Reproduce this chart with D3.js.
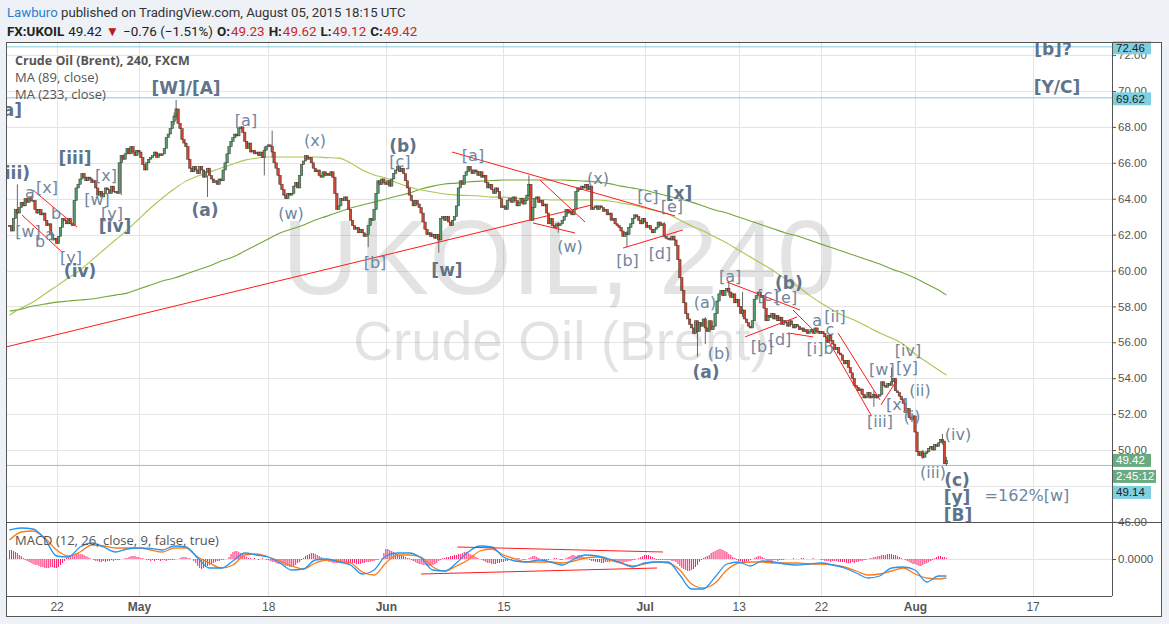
<!DOCTYPE html>
<html><head><meta charset="utf-8">
<script src="https://cdn.jsdelivr.net/npm/d3@7"></script>
<style>body{margin:0;background:#eef1f5;}svg{display:block}</style>
</head><body>
<svg id="c" width="1169" height="624"></svg>
<script>
// ---------------- DATA ----------------
const tradingDays = ["Apr 16","Apr 17","Apr 20","Apr 21","Apr 22","Apr 23","Apr 24","Apr 27","Apr 28","Apr 29","Apr 30","May 1","May 4","May 5","May 6","May 7","May 8","May 11","May 12","May 13","May 14","May 15","May 18","May 19","May 20","May 21","May 22","May 25","May 26","May 27","May 28","May 29","Jun 1","Jun 2","Jun 3","Jun 4","Jun 5","Jun 8","Jun 9","Jun 10","Jun 11","Jun 12","Jun 15","Jun 16","Jun 17","Jun 18","Jun 19","Jun 22","Jun 23","Jun 24","Jun 25","Jun 26","Jun 29","Jun 30","Jul 1","Jul 2","Jul 3","Jul 6","Jul 7","Jul 8","Jul 9","Jul 10","Jul 13","Jul 14","Jul 15","Jul 16","Jul 17","Jul 20","Jul 21","Jul 22","Jul 23","Jul 24","Jul 27","Jul 28","Jul 29","Jul 30","Jul 31","Aug 3","Aug 4","Aug 5"];
const firstOpen = 62.5;
// six 4-hour closes per trading day
const closes = [
[62.5,62.2,62.9,63.4,63.2,63.5],[63.8,63.6,64.0,63.8,64.1,63.9],[63.9,63.4,63.2,63.4,63.1,63.2],[62.8,62.5,62.6,62.0,61.7,61.8],
[61.5,61.9,62.4,62.9,62.8,62.6],[62.9,62.6,62.5,63.9,64.6,64.8],[65.1,65.4,65.2,65.0,65.2,65.1],[64.9,65.0,64.6,64.2,64.4,64.1],
[64.3,64.6,64.5,64.3,64.7,64.4],[64.4,64.3,66.0,66.4,66.2,66.5],[66.8,66.5,66.9,66.6,66.4,66.7],[66.6,66.3,65.9,65.6,66.0,66.2],
[66.3,66.4,66.6,66.3,66.5,66.4],[66.5,66.8,67.4,67.6,67.9,68.3],[68.6,69.0,68.2,67.9,67.3,67.1],[66.9,66.2,65.7,65.5,65.8,65.6],
[65.4,65.8,65.6,65.2,65.5,65.7],[65.3,65.1,64.9,65.0,64.8,65.1],[65.0,65.6,66.0,66.5,66.9,67.2],[67.4,67.6,67.5,67.9,68.0,67.7],
[67.2,66.8,67.1,66.6,66.7,66.5],[66.6,66.4,66.6,66.3,66.7,66.9],[67.0,66.9,66.6,66.0,65.7,65.3],[64.8,64.5,64.2,64.0,64.3,64.2],
[64.3,64.7,64.9,64.6,65.3,65.9],[66.1,66.4,66.2,66.3,66.0,65.7],[65.5,65.6,65.3,65.2,65.5,65.3],[65.4,65.3,65.5,65.2,64.3,63.4],
[63.6,64.0,63.9,64.1,63.9,63.4],[62.8,62.5,62.3,62.4,62.1,62.3],[62.1,61.9,62.0,62.5,62.9,62.8],[63.4,64.3,65.0,64.8,65.1,64.9],
[64.8,65.0,64.7,65.1,65.4,65.6],[65.8,65.5,65.7,65.4,65.0,64.6],[64.2,63.9,63.6,63.9,63.7,63.5],[63.2,62.7,62.3,62.0,62.1,61.9],
[62.0,61.8,62.0,61.7,62.9,63.0],[62.8,63.0,62.7,62.5,62.8,63.0],[63.6,64.6,65.0,64.8,65.3,65.5],[65.8,65.6,65.4,65.6,65.5,65.3],
[65.5,65.2,65.3,64.9,64.6,64.8],[64.5,64.3,64.6,64.4,64.0,63.5],[63.6,63.4,63.9,64.0,63.8,64.1],[63.9,63.6,63.8,64.0,63.7,63.9],
[64.2,64.8,62.8,63.5,64.0,64.1],[63.8,63.9,63.6,63.7,63.2,62.6],[62.9,62.5,62.4,62.6,62.5,62.6],[62.8,63.0,63.4,63.2,63.3,63.1],
[63.4,64.4,64.6,64.5,64.7,64.6],[64.8,64.5,64.7,63.4,63.5,63.6],[63.4,63.6,63.5,63.3,63.4,63.1],[63.2,62.8,62.9,62.6,62.5,62.4],
[62.2,61.9,62.1,62.0,62.4,62.6],[62.9,63.1,63.0,62.8,62.6,62.9],[62.7,62.4,62.5,62.3,62.1,62.3],[62.4,62.7,62.5,62.6,61.9,61.8],
[61.8,61.7,61.9,61.7,61.4,60.6],[59.6,58.9,58.2,57.6,57.3,57.0],[56.8,56.5,57.2,56.6,57.1,56.9],[57.3,56.8,56.6,57.2,56.7,56.9],
[57.6,58.3,58.7,58.9,58.6,58.9],[59.0,58.8,58.5,58.7,58.2,58.4],[58.0,57.6,57.8,57.3,57.1,56.9],[56.8,57.2,58.4,58.6,58.8,58.5],
[58.6,57.9,57.2,57.5,57.4,57.6],[57.3,57.5,57.2,57.4,57.0,57.2],[57.1,56.9,57.2,57.0,56.8,57.0],[56.9,56.7,56.8,56.6,56.7,56.5],
[56.6,56.7,56.5,56.8,56.6,56.5],[56.6,56.5,56.3,56.0,56.4,56.1],[55.9,55.6,55.7,55.4,55.3,55.0],[54.8,55.0,54.6,54.3,54.0,53.6],
[53.5,53.3,53.4,53.1,52.9,53.0],[53.2,52.9,53.0,53.1,52.9,53.0],[53.1,53.8,53.6,53.5,53.7,53.6],[53.8,54.0,53.3,53.2,53.0,52.8],
[52.6,52.1,52.3,51.8,51.7,51.9],[51.0,49.9,49.7,49.9,49.6,49.8],[49.9,50.1,50.2,50.0,50.3,50.2],[50.4,50.6,50.5,49.23,49.42]
];
// visible wicks: [bar index, high, low]
const wicks = [[4,64.8,62.2],[57,66.4,64.2],[84,68.8,68.1],[85,69.5,68.4],[101,65.3,64.1],[130,66.9,65.3],[134,67.8,66.3],[183,62.4,61.3],[219,62.0,61.0],[265,65.3,64.1],[280,62.7,62.1],[315,62.2,61.3],[334,62.7,61.9],[351,57.2,55.2],[355,57.4,55.9],[367,59.4,58.6],[374,58.8,57.4],[441,53.3,52.4],[450,54.6,53.6],[466,50.0,49.5],[476,50.9,50.3],[478,49.62,49.12]];
// moving averages, one value per trading day + last bar
const ma89 = [57.52,57.91,58.24,58.69,59.13,59.58,60.03,60.58,61.14,61.70,62.25,62.87,63.48,64.04,64.54,64.98,65.26,65.48,65.71,65.93,66.15,66.26,66.32,66.32,66.32,66.32,66.32,66.29,66.26,65.99,65.60,65.32,65.15,64.87,64.65,64.48,64.37,64.26,64.20,64.18,64.15,64.09,64.09,64.04,64.01,63.98,63.93,63.93,63.93,63.93,63.93,63.87,63.76,63.65,63.48,63.31,63.15,62.81,62.48,62.20,61.86,61.53,61.14,60.75,60.36,59.97,59.52,59.13,58.63,58.19,57.80,57.46,57.19,56.85,56.52,56.24,55.90,55.35,54.90,54.46,54.18];
const ma233 = [57.74,57.85,58.02,58.13,58.24,58.30,58.36,58.41,58.52,58.63,58.74,58.97,59.19,59.41,59.58,59.80,60.03,60.25,60.53,60.75,61.08,61.42,61.75,62.09,62.31,62.53,62.81,63.03,63.26,63.48,63.65,63.81,63.98,64.15,64.31,64.54,64.70,64.82,64.87,64.93,64.98,65.01,65.04,65.04,65.04,65.04,65.04,65.04,65.01,64.98,64.93,64.84,64.70,64.59,64.48,64.31,64.15,63.98,63.81,63.59,63.37,63.20,62.98,62.76,62.53,62.31,62.09,61.92,61.70,61.47,61.25,61.03,60.81,60.58,60.36,60.08,59.86,59.58,59.25,58.91,58.63];
// MACD (12,26,9) line and signal, per trading day + last bar
const macdLine = [1.45,1.55,1.50,1.00,0.15,0.10,0.60,0.80,0.60,0.35,0.50,0.55,0.53,0.45,0.65,0.60,0.05,-0.45,-0.45,-0.10,0.30,0.20,0.10,-0.20,-0.55,-0.50,-0.05,0.00,-0.15,-0.30,-0.75,-0.55,0.15,0.30,0.30,0.05,-0.55,-0.60,-0.20,0.35,0.65,0.60,0.10,-0.10,-0.15,-0.05,-0.15,-0.30,0.00,0.20,0.15,0.00,-0.20,-0.40,-0.20,-0.15,-0.15,-0.80,-1.50,-1.50,-0.90,-0.25,-0.15,-0.35,-0.10,-0.15,-0.25,-0.30,-0.25,-0.20,-0.30,-0.45,-0.70,-0.95,-0.85,-0.45,-0.40,-0.55,-1.15,-0.85,-0.85];
const signalLine = [0.95,1.35,1.40,1.05,0.45,0.15,0.35,0.70,0.65,0.55,0.55,0.55,0.45,0.35,0.55,0.55,0.10,-0.20,-0.45,-0.30,0.20,0.25,0.10,-0.10,-0.35,-0.50,-0.20,-0.05,-0.10,-0.20,-0.65,-0.80,-0.20,0.20,0.20,0.10,-0.40,-0.60,-0.35,-0.05,0.40,0.50,0.20,0.00,-0.15,-0.15,-0.15,-0.20,-0.10,0.05,0.10,-0.05,-0.20,-0.35,-0.25,-0.15,-0.20,-0.55,-1.25,-1.45,-1.20,-0.55,-0.20,-0.15,-0.15,-0.20,-0.20,-0.20,-0.25,-0.25,-0.30,-0.40,-0.60,-0.80,-0.75,-0.60,-0.45,-0.75,-0.95,-1.00,-0.95];
// MACD histogram per 4h bar, in hundredths
const macdHist = ("45 45 40 35 30 20 15 5 -5 -10 -15 -20 -25 -30 -30 -35 -40 -40 -45 -45 -45 -40 -40 -45 -45 -40 -30 -20 -10 " +
"5 10 15 20 25 30 30 25 25 20 15 10 5 0 -5 -10 -10 -15 -15 -10 -15 -10 -10 -5 -10 -5 -5 -5 0 0 5 " +
"5 10 15 15 15 10 10 5 5 0 -5 -5 -10 -5 -10 -5 -5 -10 -5 -5 -10 -5 -5 -5 -5 0 0 5 10 10 10 5 5 0 " +
"-10 -20 -35 -45 -50 -45 -40 -35 -30 -25 -20 -15 -10 -10 -5 -5 0 0 10 25 35 40 40 35 30 25 15 10 5 5 " +
"0 5 0 -5 0 5 0 -5 -5 -10 -15 -15 -20 -25 -25 -30 -30 -35 -35 -40 -40 -35 -30 -20 -15 -5 " +
"5 15 20 25 30 30 25 20 15 10 5 -5 -10 -15 -15 -20 -20 -20 -15 -15 -20 -20 -25 -25 -20 -20 -20 -25 -25 -25 -20 -20 -15 -15 -15 -10 -10 -5 -5 0 5 " +
"30 50 50 45 40 35 30 25 20 20 15 10 5 5 -5 -10 -15 -20 -25 -25 -30 -30 -35 -35 -35 -30 -25 -20 -10 -5 " +
"5 5 10 10 15 15 20 20 25 25 30 35 35 30 25 20 15 10 5 0 -5 -10 -15 -20 -20 -25 -25 -25 -20 -20 -15 -15 -10 -10 -5 -5 0 " +
"0 5 5 0 -5 -5 0 5 10 15 15 10 5 0 -5 -5 -10 -5 0 0 5 5 0 -5 -5 0 5 10 15 20 20 15 20 20 15 " +
"10 5 0 -5 -10 -10 -15 -15 -15 -20 -20 -15 -15 -15 -10 -10 -15 -15 -15 -20 -20 -15 -15 -10 -10 -5 -5 0 5 " +
"10 15 20 20 20 15 10 5 -5 -5 -5 -5 -5 -5 -5 -5 -10 -10 -15 " +
"-25 -35 -45 -50 -55 -60 -60 -55 -50 -40 -30 -15 -5 5 10 15 20 30 35 40 45 50 50 45 40 35 25 20 10 5 " +
"-5 -10 -10 -15 -15 -10 -10 -5 0 5 10 15 15 10 5 -5 -10 -10 -10 -5 -5 -10 -5 -5 -5 0 0 " +
"0 0 5 0 0 0 5 5 0 0 0 0 5 0 0 0 " +
"-5 -5 -10 -10 -10 -15 -10 -10 -10 -15 -15 -15 -15 -20 -20 -20 -15 -20 -15 -15 -10 -10 -5 -5 0 5 5 10 10 15 " +
"15 20 20 20 25 25 25 20 20 15 10 5 0 -5 -10 -15 -20 -25 -25 -30 -35 -35 -30 -25 -20 -15 -10 -5 " +
"5 10 15 15 10 10 5").split(" ").map(v => +v / 100);
const priceTicks = [46,48,50,52,54,56,58,60,62,64,66,68,70,72];
const tickDays = [4,11,22,32,42,54,62,69,77,87];
const tickLabels = ["22","May","18","Jun","15","Jul","13","22","Aug","17"];
const monthLabels = ["May","Jun","Jul","Aug"];
const hLines = [72.46, 69.62, 49.14];
// trend lines [day1, price1, day2, price2]
const trendLines = [[-0.3,55.74,49.53,63.65],[37.63,66.60,56.59,63.04],[45.11,65.04,48.94,62.70],[44.51,62.65,48.09,62.09],
[52.17,61.25,57.27,62.26],[2.0,64.48,5.74,62.42],[1.06,63.09,4.46,61.03],[61.01,59.36,67.22,57.80],[62.54,56.30,66.96,57.41],
[66.62,57.80,68.33,56.69],[66.20,56.52,68.33,56.30],[69.6,56.13,73.26,51.95],[70.45,56.52,74.02,52.79],[74.1,52.51,75.47,53.90]];
const macdTrend = [[38.08,0.60,55.57,0.35],[34.99,-0.75,55.06,-0.45]];
// wave labels [text, day, price, bold]
const waveLabels = [
["[a]",-0.09,68.94,1],["(iii)",0.34,65.43,1],["[W]/[A]",15.01,70.17,1],["[a]",20.11,68.33,0],["(x)",25.98,67.27,0],
["(b)",33.46,66.94,1],["[c]",33.20,66.10,0],["[a]",39.41,66.43,0],["(x)",50.04,65.15,0],["[c]",54.29,64.15,0],
["[x]",56.93,64.32,1],["[e]",56.33,63.54,0],["[iii]",5.57,66.27,1],["[x]",3.19,64.65,0],["a",1.74,64.32,0],
["[x]",8.21,65.32,0],["[w]",7.44,63.93,0],["[y]",8.72,63.20,0],["[iv]",8.97,62.48,1],["[w]",1.57,62.20,0],
["b",3.95,63.20,0],["a",3.44,62.03,0],["b",2.59,61.59,0],["[y]",5.23,60.70,0],["(iv)",6.0,59.97,1],
["(a)",16.62,63.37,1],["(w)",23.94,63.20,0],["[b]",31.08,60.47,0],["[w]",37.20,60.03,1],["(w)",47.66,61.31,0],
["[b]",52.55,60.58,0],["[d]",55.31,60.97,0],["[a]",61.27,59.69,0],["(b)",66.28,59.30,1],["[c]",64.50,58.58,0],
["[e]",66.03,58.47,0],["(a)",59.14,58.19,0],["(b)",60.33,55.40,0],["(a)",59.23,54.35,1],["[b]",63.99,55.74,0],
["[d]",65.52,56.13,0],["a",68.67,57.24,0],["[ii]",70.19,57.41,0],["c",69.77,56.74,0],["[i]b",68.92,55.68,0],
["[iii]",74.02,51.56,0],["[w]",74.18,54.46,0],["[iv]",76.40,55.57,0],["[y]",76.32,54.62,0],["[x]",75.47,52.51,0],
["(ii)",77.42,53.34,0],["(i)",76.74,51.84,0],["(iv)",80.66,50.84,0],["(iii)",78.53,48.72,0],["(c)",80.57,48.33,1],
["[y]",80.57,47.38,1],["=162%[w]",86.52,47.49,0],["[B]",80.66,46.38,1],["[b]?",88.73,72.36,1],["[Y/C]",89.07,70.22,1],
["(v)",-1.32,56.96,1]];

// ---------------- LAYOUT ----------------
const paneL=6, paneR=1112, mainT=42, mainB=522, macdT=523, macdB=596, frameR=1162, frameB=617;
const svg = d3.select("#c");
const x = d3.scaleLinear().domain([-0.3, 93.75]).range([paneL, paneR]);
const y = d3.scaleLinear().domain([46, 72]).range([521.8, 55.1]);
const ym = d3.scaleLinear().domain([-1.85, 1.8]).range([macdB, macdT]);
const lastBar = macdHist.length - 1;
const dayPos = i => Math.min(i, lastBar / 6);
const crisp = v => Math.round(v) + 0.5;

svg.append("rect").attr("width",1169).attr("height",624).attr("fill","#eef1f5");
svg.append("rect").attr("x",paneL).attr("y",mainT).attr("width",frameR-paneL).attr("height",frameB-mainT).attr("fill","#fff");

const defs = svg.append("defs");
defs.append("clipPath").attr("id","cm").append("rect").attr("x",paneL).attr("y",mainT).attr("width",paneR-paneL).attr("height",mainB-mainT);
defs.append("clipPath").attr("id","cd").append("rect").attr("x",paneL).attr("y",macdT).attr("width",paneR-paneL).attr("height",macdB-macdT);

// grid
const grid = svg.append("g").attr("stroke","#e4e4e4").attr("stroke-width",1);
tickDays.forEach(d => {
  grid.append("line").attr("x1",crisp(x(d))).attr("x2",crisp(x(d))).attr("y1",mainT).attr("y2",mainB);
  grid.append("line").attr("x1",crisp(x(d))).attr("x2",crisp(x(d))).attr("y1",macdT).attr("y2",macdB);
});
priceTicks.forEach(p => grid.append("line").attr("x1",paneL).attr("x2",paneR).attr("y1",crisp(y(p))).attr("y2",crisp(y(p))));
grid.append("line").attr("x1",paneL).attr("x2",paneR).attr("y1",crisp(ym(0))).attr("y2",crisp(ym(0)));

// main pane
const main = svg.append("g").attr("clip-path","url(#cm)");
main.append("text").attr("x",559).attr("y",294).attr("text-anchor","middle").attr("font-family","Liberation Sans, Arial, sans-serif")
  .attr("font-size",106).attr("fill","#000").attr("fill-opacity",0.11).text("UKOIL, 240");
main.append("text").attr("x",561).attr("y",360).attr("text-anchor","middle").attr("font-family","Liberation Sans, Arial, sans-serif")
  .attr("font-size",55).attr("fill","#000").attr("fill-opacity",0.11).text("Crude Oil (Brent)");

const maLine = d3.line().x((d,i)=>x(dayPos(i))).y(d=>y(d)).curve(d3.curveMonotoneX);
main.append("path").attr("d",maLine(ma233)).attr("fill","none").attr("stroke","#72a63a").attr("stroke-width",1.1);
main.append("path").attr("d",maLine(ma89)).attr("fill","none").attr("stroke","#a8c84e").attr("stroke-width",1.1);

hLines.forEach(p => main.append("line").attr("x1",paneL).attr("x2",paneR).attr("y1",y(p)).attr("y2",y(p)).attr("stroke","#7fcbdc").attr("stroke-width",1));

// candles
const bars = [];
let prev = firstOpen;
closes.forEach((day, di) => day.forEach((c, b) => { bars.push({k: di*6 + b, o: prev, c}); prev = c; }));
const wickMap = new Map(wicks.map(w => [w[0], w]));
const cg = main.append("g");
bars.forEach(bar => {
  const cx = x(bar.k / 6);
  const w = wickMap.get(bar.k);
  if (w) cg.append("line").attr("x1",cx).attr("x2",cx).attr("y1",y(w[1])).attr("y2",y(w[2])).attr("stroke","#666").attr("stroke-width",1);
  const top = y(Math.max(bar.o, bar.c)), bot = y(Math.min(bar.o, bar.c));
  cg.append("rect").attr("x",cx-1.2).attr("y",top).attr("width",2.4).attr("height",Math.max(1, bot-top))
    .attr("fill", bar.c >= bar.o ? "#4f9e6b" : "#d2472f").attr("stroke","#3a2e2a").attr("stroke-width",0.5);
});

trendLines.forEach(t => main.append("line").attr("x1",x(t[0])).attr("y1",y(t[1])).attr("x2",x(t[2])).attr("y2",y(t[3]))
  .attr("stroke","#ff1a1a").attr("stroke-width",1));

waveLabels.forEach(l => main.append("text").attr("x",x(l[1])).attr("y",y(l[2])).attr("text-anchor","middle")
  .attr("dominant-baseline","central").attr("font-family","DejaVu Sans, sans-serif")
  .attr("font-size", l[3] ? 17 : 16).attr("font-weight", l[3] ? "bold" : "normal")
  .attr("fill", l[3] ? "#5f7389" : "#7186a0").text(l[0]));

// legend
const leg = svg.append("g").attr("font-family","Open Sans, sans-serif").attr("font-size",12.5).attr("fill","#555");
leg.append("text").attr("x",15).attr("y",65).attr("font-weight","bold").text("Crude Oil (Brent), 240, FXCM");
leg.append("text").attr("x",15).attr("y",82).attr("font-size",13).text("MA (89, close)");
leg.append("text").attr("x",15).attr("y",99).attr("font-size",13).text("MA (233, close)");

// MACD pane
const md = svg.append("g").attr("clip-path","url(#cd)");
md.selectAll("rect.h").data(macdHist).enter().append("rect")
  .attr("x",(d,i)=>x(i/6)-0.5).attr("width",1)
  .attr("y",d=>Math.min(ym(d), ym(0))).attr("height",d=>Math.abs(ym(d)-ym(0)))
  .attr("fill","#ff1f6b");
const mLine = d3.line().x((d,i)=>x(dayPos(i))).y(d=>ym(d)).curve(d3.curveMonotoneX);
md.append("path").attr("d",mLine(signalLine)).attr("fill","none").attr("stroke","#ff7a14").attr("stroke-width",1.3);
md.append("path").attr("d",mLine(macdLine)).attr("fill","none").attr("stroke","#2196f3").attr("stroke-width",1.3);
macdTrend.forEach(t => md.append("line").attr("x1",x(t[0])).attr("y1",ym(t[1])).attr("x2",x(t[2])).attr("y2",ym(t[3]))
  .attr("stroke","#ff1a1a").attr("stroke-width",1));
svg.append("text").attr("x",15).attr("y",545).attr("font-family","Open Sans, sans-serif").attr("font-size",13).attr("fill","#555")
  .text("MACD (12, 26, close, 9, false, true)");

// axes
const yAxis = svg.append("g").attr("transform",`translate(${paneR},0)`)
  .call(d3.axisRight(y).tickValues(priceTicks).tickFormat(d3.format(".2f")).tickSize(4).tickPadding(2));
const mAxis = svg.append("g").attr("transform",`translate(${paneR},0)`)
  .call(d3.axisRight(ym).tickValues([0]).tickFormat(d3.format(".4f")).tickSize(4).tickPadding(2));
const xAxis = svg.append("g").attr("transform",`translate(0,${macdB})`)
  .call(d3.axisBottom(x).tickValues(tickDays).tickFormat((d,i)=>tickLabels[i]).tickSize(0).tickPadding(6));
[yAxis, mAxis, xAxis].forEach(a => {
  a.select(".domain").remove();
  a.selectAll("line").attr("stroke","#555");
  a.selectAll("text").attr("fill","#555").attr("font-family","Liberation Sans, Arial, sans-serif").attr("font-size",11.5);
});
xAxis.selectAll("text").attr("font-size",12).attr("font-weight",d => monthLabels.includes(tickLabels[tickDays.indexOf(d)]) ? "bold" : "normal");

// price label boxes
const lastY = y(49.42);
const tagRows = [[y(72.46)+1,"72.46","#80cfe0","#1d1d1d",38],[y(69.62)+1,"69.62","#80cfe0","#1d1d1d",38],
  [lastY,"49.42","#6aaa82","#fff",38],[lastY+16,"2:45:12","#6aaa82","#fff",43],[lastY+32,"49.14","#80cfe0","#1d1d1d",38]];
// axis labels hidden where a price tag sits fully over them
yAxis.selectAll(".tick text").filter(d => tagRows.slice(3).some(t => Math.abs(y(d) - t[0]) < 11)).attr("opacity",0);
tagRows.forEach(([v, txt, bg, fg, w]) => {
  const g = svg.append("g");
  g.append("rect").attr("x",paneR+1).attr("y",v-6.5).attr("width",w).attr("height",13).attr("fill",bg);
  g.append("text").attr("x",paneR+4).attr("y",v).attr("dominant-baseline","central").attr("font-family","Liberation Sans, Arial, sans-serif")
    .attr("font-size",11.5).attr("fill",fg).text(txt);
});

// frame
const fr = svg.append("g").attr("stroke","#555").attr("stroke-width",1).attr("fill","none");
fr.append("rect").attr("x",paneL+0.5).attr("y",mainT+0.5).attr("width",frameR-paneL-1).attr("height",frameB-mainT-1);
fr.append("line").attr("x1",paneR+0.5).attr("x2",paneR+0.5).attr("y1",mainT).attr("y2",macdB);
fr.append("line").attr("x1",paneL).attr("x2",frameR).attr("y1",mainB+0.5).attr("y2",mainB+0.5);
fr.append("line").attr("x1",paneL).attr("x2",paneR).attr("y1",macdB+0.5).attr("y2",macdB+0.5);

// header
const hf = "Roboto, Open Sans, sans-serif";
const h1 = svg.append("text").attr("x",7).attr("y",17).attr("font-family",hf).attr("font-size",13.2).attr("fill","#333");
h1.append("tspan").attr("fill","#2a7fd4").text("Lawburo");
h1.append("tspan").text(" published on TradingView.com, August 05, 2015 18:15 UTC");
const hdr2 = [["FX:UKOIL",7,"bold","#222"],["49.42",66,"normal","#222"],["\u25BC",102,"normal","#b71c1c"],["\u22120.76 (\u22121.51%)",113,"normal","#222"],
  ["O:",207,"bold","#222"],["49.23",220,"normal","#c62828"],["H:",259,"bold","#222"],["49.62",272,"normal","#c62828"],
  ["L:",312,"bold","#222"],["49.12",322,"normal","#c62828"],["C:",362,"bold","#222"],["49.42",374,"normal","#c62828"]];
let hx = 0;
hdr2.forEach(h => {
  const t = svg.append("text").attr("x",Math.max(h[1], hx)).attr("y",36).attr("font-family",hf).attr("font-size",13.4)
    .attr("font-weight",h[2]).attr("fill",h[3]).text(h[0]);
  hx = Math.max(h[1], hx) + t.node().getComputedTextLength() + (h[0].endsWith(":") ? 1 : 4);
});
</script>
</body></html>
